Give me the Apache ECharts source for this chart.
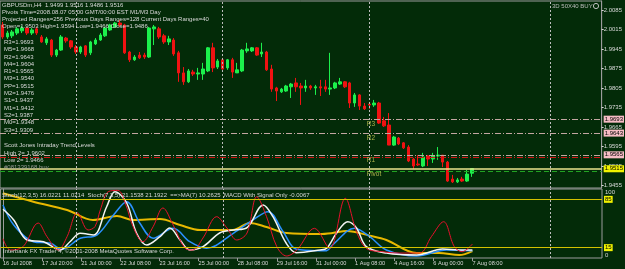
<!DOCTYPE html>
<html>
<head>
<meta charset="utf-8">
<script src="https://cdn.jsdelivr.net/npm/echarts@6/dist/echarts.min.js"></script>
<style>
  html, body { margin: 0; padding: 0; background: #032b08; }
  #chart { width: 625px; height: 269px; }
</style>
</head>
<body>
<div id="chart"></div>
<script>
// GBPUSDm H4 candles
const opens = [
  2.0031, 1.9988, 1.9992, 2.0002, 2.0010, 2.0020, 2.0002, 2.0017, 1.9988, 1.9967,
  1.9977, 1.9923, 1.9941, 1.9984, 1.9974, 1.9952, 1.9934, 1.9956, 1.9931, 1.9963,
  1.9977, 1.9992, 2.0013, 2.0024, 2.0038, 2.0031, 1.9934, 1.9906, 1.9923, 1.9923,
  1.9916, 2.0017, 2.0017, 1.9992, 1.9970, 1.9977, 1.9931, 1.9859, 1.9827, 1.9862,
  1.9855, 1.9855, 1.9866, 1.9949, 1.9880, 1.9906, 1.9877, 1.9906, 1.9859, 1.9866,
  1.9938, 1.9938, 1.9949, 1.9927, 1.9934, 1.9873, 1.9805, 1.9791, 1.9794, 1.9809,
  1.9823, 1.9812, 1.9805, 1.9812, 1.9805, 1.9809, 1.9809, 1.9801, 1.9805, 1.9819,
  1.9827, 1.9823, 1.9751, 1.9780, 1.9740, 1.9747, 1.9744, 1.9751, 1.9687, 1.9672,
  1.9600, 1.9625, 1.9608, 1.9593, 1.9550, 1.9532, 1.9525, 1.9561, 1.9550, 1.9561,
  1.9564, 1.9539, 1.9478, 1.9468, 1.9478, 1.9471, 1.9499
]
const closes = [
  1.9988, 2.0002, 2.0006, 2.0017, 2.0020, 2.0002, 2.0013, 2.0002, 1.9970, 1.9981,
  1.9923, 1.9941, 1.9988, 1.9974, 1.9952, 1.9934, 1.9952, 1.9923, 1.9970, 1.9977,
  1.9995, 2.0020, 2.0031, 2.0038, 2.0031, 1.9931, 1.9906, 1.9916, 1.9913, 1.9916,
  2.0020, 2.0024, 1.9988, 1.9970, 1.9981, 1.9927, 1.9859, 1.9827, 1.9866, 1.9855,
  1.9859, 1.9873, 1.9949, 1.9877, 1.9902, 1.9873, 1.9906, 1.9862, 1.9870, 1.9941,
  1.9945, 1.9949, 1.9923, 1.9934, 1.9870, 1.9801, 1.9794, 1.9801, 1.9812, 1.9819,
  1.9809, 1.9805, 1.9812, 1.9805, 1.9809, 1.9805, 1.9801, 1.9805, 1.9823, 1.9827,
  1.9809, 1.9751, 1.9780, 1.9740, 1.9730, 1.9744, 1.9751, 1.9679, 1.9669, 1.9600,
  1.9629, 1.9604, 1.9590, 1.9543, 1.9525, 1.9529, 1.9557, 1.9550, 1.9561, 1.9564,
  1.9539, 1.9471, 1.9468, 1.9475, 1.9471, 1.9496, 1.9516
]
const lows = [
  1.9981, 1.9981, 1.9984, 1.9995, 2.0002, 1.9995, 1.9995, 1.9995, 1.9967, 1.9959,
  1.9916, 1.9916, 1.9938, 1.9967, 1.9945, 1.9927, 1.9927, 1.9916, 1.9923, 1.9959,
  1.9974, 1.9988, 2.0010, 2.0020, 2.0024, 1.9927, 1.9898, 1.9902, 1.9909, 1.9909,
  1.9913, 1.9959, 1.9981, 1.9963, 1.9959, 1.9920, 1.9827, 1.9816, 1.9823, 1.9848,
  1.9834, 1.9834, 1.9862, 1.9862, 1.9873, 1.9870, 1.9870, 1.9841, 1.9859, 1.9862,
  1.9931, 1.9934, 1.9920, 1.9916, 1.9866, 1.9791, 1.9758, 1.9787, 1.9791, 1.9769,
  1.9791, 1.9744, 1.9791, 1.9798, 1.9780, 1.9776, 1.9791, 1.9780, 1.9801, 1.9816,
  1.9805, 1.9733, 1.9737, 1.9726, 1.9726, 1.9730, 1.9737, 1.9676, 1.9665, 1.9600,
  1.9597, 1.9600, 1.9586, 1.9539, 1.9514, 1.9525, 1.9521, 1.9525, 1.9536, 1.9547,
  1.9521, 1.9468, 1.9464, 1.9464, 1.9468, 1.9468, 1.9486
]
const highs = [
  2.0042, 2.0010, 2.0013, 2.0024, 2.0028, 2.0024, 2.0020, 2.0024, 1.9995, 1.9988,
  1.9981, 1.9945, 1.9995, 1.9988, 1.9977, 1.9959, 1.9956, 1.9959, 1.9974, 1.9984,
  2.0002, 2.0024, 2.0035, 2.0042, 2.0049, 2.0035, 1.9938, 1.9923, 1.9934, 1.9931,
  2.0024, 2.0031, 2.0024, 1.9999, 1.9992, 1.9984, 1.9938, 1.9880, 1.9873, 1.9870,
  1.9877, 1.9895, 1.9952, 1.9967, 1.9909, 1.9913, 1.9909, 1.9913, 1.9895, 1.9945,
  1.9967, 1.9952, 1.9952, 1.9967, 1.9938, 1.9888, 1.9809, 1.9805, 1.9816, 1.9823,
  1.9841, 1.9823, 1.9834, 1.9816, 1.9816, 1.9834, 1.9834, 1.9931, 1.9827, 1.9841,
  1.9830, 1.9827, 1.9787, 1.9783, 1.9751, 1.9755, 1.9762, 1.9755, 1.9701, 1.9715,
  1.9633, 1.9629, 1.9611, 1.9600, 1.9554, 1.9564, 1.9572, 1.9564, 1.9572, 1.9593,
  1.9564, 1.9543, 1.9493, 1.9482, 1.9486, 1.9511, 1.9516
]

// oscillator pane, [bar, value] pairs
const stochFast = [
  [0, 28], [1.5, 11.6], [4.1, 16.4], [7.2, 50.7], [9, 30.9], [11.3, 11.6], [13.1, 30.9],
  [15.2, 65.7], [17.4, 40.6], [18.8, 45.4], [19.9, 69.6], [21.5, 96], [23.5, 98], [25, 79.7],
  [26.6, 45.4], [28.6, 23.6], [30.7, 45.4], [32.7, 72.5], [34.8, 47.8], [37.2, 14.5],
  [38.8, 11.6], [40.9, 29], [43.7, 59.9], [45.8, 43.5], [47.8, 26.1], [49.9, 36.2],
  [51.9, 88.8], [53.9, 59.9], [56, 16.4], [58, 2.9], [60.1, 11.6], [63.7, 43], [66.8, 14],
  [70, 86.5], [72.3, 38.1], [74.3, 14], [77.6, 9.1], [81.1, 7.2], [85.2, 7.2], [87.6, 30.9],
  [90.1, 52.6], [92.3, 16.4], [93.9, 9.1], [96, 20.3]
]
const stochMain = [
  [0, 70.6], [2.2, 55.1], [4.9, 26.1], [8.3, 23.6], [11.7, 11.6], [13.7, 23.6], [15.8, 35.8],
  [18.5, 33.3], [21.2, 74.3], [22.9, 96], [25.3, 79.7], [27.3, 36.2], [29.4, 18.8],
  [32.1, 30.9], [34.1, 43.5], [36.2, 26.1], [38.2, 11.6], [40.9, 16.4], [44.3, 36.2],
  [47.1, 40.6], [49.8, 43.5], [53.2, 76.8], [55.2, 59.9], [57.9, 21.7], [60, 7.7],
  [64.8, 11.6], [66.2, 14], [68.2, 35.8], [70.5, 52.6], [72.3, 43.5], [74.3, 16.4],
  [78.4, 7.2], [84.6, 4.3], [89.9, 13], [93.4, 11.6], [96, 11.6]
]
const stochSignal = [
  [0, 76.8], [2.2, 47.8], [6.2, 23.6], [9.7, 21.3], [12, 12.6], [15.8, 28.6], [19.2, 33.3],
  [22.6, 62.3], [25.3, 81.6], [28, 50.3], [30.7, 28.6], [34.8, 43], [38.2, 23.6], [41.6, 14],
  [47.1, 35.8], [51.1, 55.1], [54.2, 67.1], [57.3, 38.1], [60, 12.6], [64.8, 10.6],
  [66.2, 10.6], [67.4, 18.8], [71.9, 43], [75, 30.9], [78.4, 11.6], [84.6, 2.9],
  [90.7, 11.6], [96, 10.6]
]
const maLine = [
  [0, 93.8], [6.2, 81.6], [13.1, 69.6], [18.4, 55.1], [23.3, 60.9], [26.6, 55.1],
  [32.1, 56.5], [36.2, 47.8], [40.3, 40.6], [47, 40.6], [50.5, 50.7], [53.9, 44.9],
  [58, 36.2], [64.8, 34.8], [67.4, 36.2], [70.3, 39.1], [75, 32.3], [78.4, 26.1],
  [84.6, 7.2], [89.2, 7.2], [93.3, 4.3], [96, 10.1]
]

const barSlots = 123
const timeLabels = [
  '16 Jul 2008', '17 Jul 20:00', '21 Jul 00:00', '22 Jul 08:00', '23 Jul 16:00',
  '25 Jul 00:00', '28 Jul 08:00', '29 Jul 16:00', '31 Jul 00:00', '1 Aug 08:00',
  '4 Aug 16:00', '6 Aug 00:00', '7 Aug 08:00'
]
const labelEvery = 8
const separatorBars = [15, 45, 75, 112]
const priceTicks = [1.9455, 1.9525, 1.9595, 1.9665, 1.9735, 1.9805, 1.9875, 1.9945, 2.0015, 2.0085]

const pivotNames = ['R3', 'M5', 'R2', 'M4', 'R1', 'M3', 'PP', 'M2', 'S1', 'M1', 'S2', 'M0', 'S3']
const pivotValues = [1.9693, 1.9668, 1.9643, 1.9604, 1.9565, 1.9540, 1.9515, 1.9476, 1.9437, 1.9412, 1.9387, 1.9348, 1.9309]
const drawnLevels = ['R3', 'R2', 'R1', 'PP']
const trendRed = 1.9557
const trendGreen = 1.9505
const oscLevels = [85, 15]

const headerLines = [
  'GBPUSDm,H4  1.9499 1.9516 1.9486 1.9516',
  'Pivots Time=2008.08.07 05:00 GMT/00:00 EST M1/M3 Day',
  'Projected Ranges=256 Previous Days Ranges=128 Current Days Ranges=40',
  'Open=1.9503 High=1.9594 Low=1.9466 Close=1.9486'
]
const trendLines = ['Scott Jones Intraday Trend Levels', 'High 2= 1.9602', 'Low 2= 1.9466']

const FONT = '"Liberation Sans", Arial, sans-serif'
const txt = '#d8d8d8'
const frame = '#9c9c9c'
const categories = Array.from({ length: barSlots }, (_, i) => String(i))
const candles = opens.map((o, i) => [o, closes[i], lows[i], highs[i]])

const pivotOf = (n) => pivotValues[pivotNames.indexOf(n)]
const dashDot = [6, 2, 1, 2]

const priceBox = (v, bg) => ({
  show: true, position: 'end', distance: 2,
  formatter: v.toFixed(4),
  color: '#000', backgroundColor: bg, fontSize: 6, fontFamily: FONT,
  padding: [1, 1, 0, 1],
})

const mainMarks = [
  ...['R3', 'R2', 'R1'].map((n) => ({
    yAxis: pivotOf(n),
    lineStyle: { color: '#c4a6a2', type: dashDot, width: 1 },
    label: priceBox(pivotOf(n), '#f6bcc4'),
  })),
  { yAxis: trendRed, lineStyle: { color: '#d41414', type: dashDot, width: 1 }, label: { show: false } },
  { yAxis: pivotOf('PP'), lineStyle: { color: '#ece68e', type: 'solid', width: 1.5 }, label: priceBox(pivotOf('PP'), '#f2f200') },
  { yAxis: trendGreen, lineStyle: { color: '#22a222', type: [5, 3], width: 1 }, label: { show: false } },
  ...separatorBars.map((b) => ({
    xAxis: b, lineStyle: { color: '#bdbdbd', type: [2, 2], width: 1 }, label: { show: false },
  })),
]

const levelTags = drawnLevels.map((n) => ({ value: [75, pivotOf(n)], name: n === 'PP' ? 'Pivot' : n }))

const textEl = (s, x, y, color) => ({
  type: 'text', x, y, silent: true, z: 50,
  style: { text: s, fill: color || txt, font: '6px ' + FONT, verticalAlign: 'middle' },
})

const graphics = [
  ...headerLines.map((s, i) => textEl(s, 2, 5.5 + i * 7)),
  ...pivotNames.map((n, i) => textEl(n + '=' + pivotValues[i].toFixed(4), 4, 42.3 + i * 7.3)),
  ...trendLines.map((s, i) => textEl(s, 4, 145.7 + i * 7.3)),
  textEl('#081339168 buy', 4, 167.5, '#9a9a9a'),
  textEl('3D 50X40 BUY', 552, 6, '#bdbdbd'),
  { type: 'circle', shape: { cx: 596, cy: 6, r: 2.6 }, style: { fill: 'none', stroke: '#bdbdbd', lineWidth: 1 }, z: 50 },
  textEl('Stoch(12,3,5) 16.0221 11.0214  Stoch(7,3,5) 21.1538 21.1922  ==>MA(7) 10.2625  MACD With Signal Only -0.0067', 2, 195),
  textEl('Interbank FX Trader 4, \u00a92001-2008 MetaQuotes Software Corp.', 3, 251),
]

const chart = echarts.init(document.getElementById('chart'))
chart.setOption({
  backgroundColor: '#032b08',
  animation: false,
  textStyle: { fontFamily: FONT },
  graphic: graphics,
  grid: [
    { left: 0, right: 23, top: 1, height: 187, show: true, borderColor: frame, borderWidth: 1, backgroundColor: 'transparent' },
    { left: 0, right: 23, top: 189, height: 69, show: true, borderColor: frame, borderWidth: 1, backgroundColor: 'transparent' },
  ],
  xAxis: [
    {
      type: 'category', gridIndex: 0, data: categories, boundaryGap: true,
      axisLine: { show: false }, axisTick: { show: false }, axisLabel: { show: false }, splitLine: { show: false },
    },
    {
      type: 'category', gridIndex: 1, data: categories, boundaryGap: true,
      axisLine: { show: false },
      axisTick: {
        show: true, alignWithLabel: true, length: 3, lineStyle: { color: frame },
        interval: (i) => i % labelEvery === 0 && i / labelEvery < timeLabels.length,
      },
      axisLabel: {
        show: true, align: 'left', margin: 2, color: txt, fontSize: 5.6, fontFamily: FONT,
        interval: (i) => i % labelEvery === 0 && i / labelEvery < timeLabels.length,
        formatter: (v, i) => timeLabels[i / labelEvery] || '',
      },
      splitLine: { show: false },
    },
    {
      type: 'value', gridIndex: 1, min: -0.5, max: barSlots - 0.5, show: false,
    },
  ],
  yAxis: [
    {
      type: 'value', gridIndex: 0, position: 'right', min: 1.9446, max: 2.0117, scale: true,
      splitLine: { show: false },
      axisLine: { show: true, lineStyle: { color: frame } },
      axisTick: { show: true, length: 2, customValues: priceTicks, lineStyle: { color: txt } },
      axisLabel: {
        show: true, customValues: priceTicks, margin: 2, color: txt, fontSize: 6, fontFamily: FONT,
        formatter: (v) => v.toFixed(4),
      },
    },
    {
      type: 'value', gridIndex: 1, position: 'right', min: 0, max: 100,
      splitLine: { show: false },
      axisLine: { show: true, lineStyle: { color: frame } },
      axisTick: { show: false },
      axisLabel: {
        show: true, customValues: [0, 100], margin: 3, color: txt, fontSize: 6, fontFamily: FONT,
        verticalAlignMinLabel: 'bottom', verticalAlignMaxLabel: 'top',
      },
    },
  ],
  series: [
    {
      name: 'GBPUSDm', type: 'candlestick', xAxisIndex: 0, yAxisIndex: 0,
      data: candles, barWidth: 3,
      itemStyle: { color: '#1cf04c', color0: '#f01212', borderColor: '#1cf04c', borderColor0: '#f01212', borderWidth: 1 },
      markLine: { silent: true, symbol: ['none', 'none'], animation: false, precision: 4, data: mainMarks },
    },
    {
      name: 'levels', type: 'scatter', xAxisIndex: 0, yAxisIndex: 0, z: 20,
      data: levelTags, symbolSize: 1, itemStyle: { color: 'transparent' }, silent: true,
      label: {
        show: true, position: [-2, 2], align: 'left', verticalAlign: 'top',
        formatter: (p) => p.name, color: '#d2d25a', fontSize: 6.5, fontFamily: FONT,
      },
    },
    {
      name: 'MA(7)', type: 'line', xAxisIndex: 2, yAxisIndex: 1, data: maLine,
      smooth: 0.35, showSymbol: false, lineStyle: { color: '#e8b800', width: 2 },
      markLine: {
        silent: true, symbol: ['none', 'none'], animation: false, precision: 2,
        data: [
          ...oscLevels.map((v) => ({
            yAxis: v, lineStyle: { color: '#d4c200', type: 'solid', width: 1 },
            label: { show: true, position: 'end', distance: 2, formatter: String(v), color: '#000', backgroundColor: '#f2f200', fontSize: 6, fontFamily: FONT, padding: [1, 1, 0, 1] },
          })),
          ...separatorBars.map((b) => ({ xAxis: b, lineStyle: { color: '#bdbdbd', type: [2, 2], width: 1 }, label: { show: false } })),
        ],
      },
    },
    {
      name: 'Stoch signal', type: 'line', xAxisIndex: 2, yAxisIndex: 1, data: stochSignal,
      smooth: 0.35, showSymbol: false, lineStyle: { color: '#2a90ff', width: 1.5 },
    },
    {
      name: 'Stoch main', type: 'line', xAxisIndex: 2, yAxisIndex: 1, data: stochMain,
      smooth: 0.35, showSymbol: false, lineStyle: { color: '#f4f4f4', width: 1.5 },
    },
    {
      name: 'Stoch fast', type: 'line', xAxisIndex: 2, yAxisIndex: 1, data: stochFast,
      smooth: 0.35, showSymbol: false, lineStyle: { color: '#e8102c', width: 1 },
    },
  ],
})
</script>
</body>
</html>
